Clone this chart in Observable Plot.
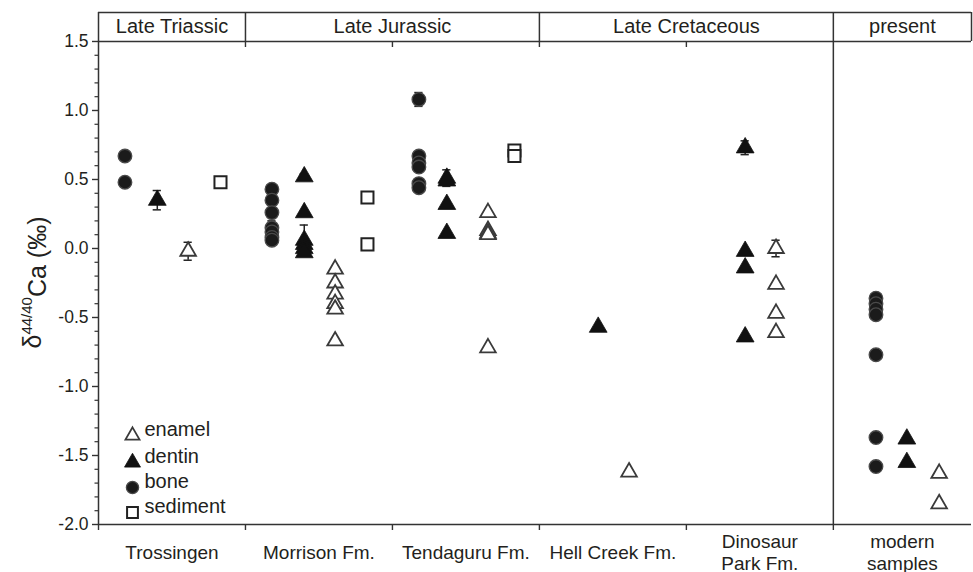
<!DOCTYPE html>
<html>
<head>
<meta charset="utf-8">
<script src="https://cdn.jsdelivr.net/npm/d3@7"></script>
<script src="https://cdn.jsdelivr.net/npm/@observablehq/plot@0.6"></script>
<style>
  html, body { margin: 0; padding: 0; background: #fff; }
  #chart { width: 973px; height: 572px; }
</style>
</head>
<body>
<div id="chart"></div>
<script>
// ---------- data ----------
const formations = ["Trossingen", "Morrison Fm.", "Tendaguru Fm.", "Hell Creek Fm.", "Dinosaur Park Fm.", "modern samples"];
const formationLabels = ["Trossingen", "Morrison Fm.", "Tendaguru Fm.", "Hell Creek Fm.", "Dinosaur\nPark Fm.", "modern\nsamples"];
const eras = ["Late Triassic", "Late Jurassic", "Late Cretaceous", "present"];
const eraSpans = [[0, 1], [1, 3], [3, 5], [5, 6]]; // formation index range covered by each era
const yTicks = [-2.0, -1.5, -1.0, -0.5, 0.0, 0.5, 1.0, 1.5];

// [formation, δ44/40Ca (‰), error bar (±)]
const enamel = [
  ["Trossingen", -0.02, 0.065],
  ["Morrison Fm.", -0.15], ["Morrison Fm.", -0.25], ["Morrison Fm.", -0.33], ["Morrison Fm.", -0.40], ["Morrison Fm.", -0.44], ["Morrison Fm.", -0.67],
  ["Tendaguru Fm.", 0.26], ["Tendaguru Fm.", 0.13], ["Tendaguru Fm.", 0.11], ["Tendaguru Fm.", 0.10], ["Tendaguru Fm.", -0.72],
  ["Hell Creek Fm.", -1.62],
  ["Dinosaur Park Fm.", 0.00, 0.06], ["Dinosaur Park Fm.", -0.26], ["Dinosaur Park Fm.", -0.47], ["Dinosaur Park Fm.", -0.61],
  ["modern samples", -1.63], ["modern samples", -1.85]
];
const dentin = [
  ["Trossingen", 0.35, 0.07],
  ["Morrison Fm.", 0.52, 0.02], ["Morrison Fm.", 0.26], ["Morrison Fm.", 0.06, 0.11], ["Morrison Fm.", 0.03], ["Morrison Fm.", 0.00], ["Morrison Fm.", -0.03],
  ["Tendaguru Fm.", 0.51, 0.06], ["Tendaguru Fm.", 0.49], ["Tendaguru Fm.", 0.32], ["Tendaguru Fm.", 0.11],
  ["Hell Creek Fm.", -0.57],
  ["Dinosaur Park Fm.", 0.73, 0.05], ["Dinosaur Park Fm.", -0.02], ["Dinosaur Park Fm.", -0.14], ["Dinosaur Park Fm.", -0.64],
  ["modern samples", -1.38], ["modern samples", -1.55]
];
const bone = [
  ["Trossingen", 0.67], ["Trossingen", 0.48],
  ["Morrison Fm.", 0.43], ["Morrison Fm.", 0.35], ["Morrison Fm.", 0.26], ["Morrison Fm.", 0.15, 0.05], ["Morrison Fm.", 0.12], ["Morrison Fm.", 0.08], ["Morrison Fm.", 0.06],
  ["Tendaguru Fm.", 1.08, 0.05], ["Tendaguru Fm.", 0.67], ["Tendaguru Fm.", 0.62], ["Tendaguru Fm.", 0.59], ["Tendaguru Fm.", 0.47], ["Tendaguru Fm.", 0.44],
  ["modern samples", -0.36], ["modern samples", -0.40], ["modern samples", -0.44], ["modern samples", -0.48], ["modern samples", -0.77], ["modern samples", -1.37], ["modern samples", -1.58]
];
const sediment = [
  ["Trossingen", 0.48],
  ["Morrison Fm.", 0.37], ["Morrison Fm.", 0.03],
  ["Tendaguru Fm.", 0.71], ["Tendaguru Fm.", 0.67]
];
const materials = ["enamel", "dentin", "bone", "sediment"];

// ---------- layout (not data) ----------
const X_MAX = 5.94;              // modern column is slightly narrower
const Y_MIN = -2.0, Y_TOP = 1.5, Y_HEAD = 1.71; // header band above 1.5
const PX = 1 / 138;               // one pixel in y units
const slot = {bone: 0.18, dentin: 0.40, enamel: 0.61, sediment: 0.83};
const slotOverride = {
  "Tendaguru Fm.": {dentin: 0.37, enamel: 0.65},
  "modern samples": {bone: 0.29, dentin: 0.50, enamel: 0.72}
};
function xPos(f, m) {
  const o = (slotOverride[f] && slotOverride[f][m] !== undefined) ? slotOverride[f][m] : slot[m];
  return formations.indexOf(f) + o;
}
function rows(arr, m) {
  return arr.map(([f, v, e]) => ({x: xPos(f, m), y: v, e: e || 0, m}));
}
const pts = {enamel: rows(enamel, "enamel"), dentin: rows(dentin, "dentin"), bone: rows(bone, "bone"), sediment: rows(sediment, "sediment")};
const allPts = [...pts.enamel, ...pts.dentin, ...pts.bone, ...pts.sediment];
const errPts = allPts.filter(d => d.e > 0);
const CAP = 0.028;

const ink = "#231f20";
const lineCol = "#333";
const minorTicks = d3.range(-20, 16).filter(v => v % 5 !== 0).map(v => v / 10);
const labelCenters = formations.map((f, i) => (i + Math.min(i + 1, X_MAX)) / 2);
const eraData = eras.map((e, i) => ({label: e, x: (eraSpans[i][0] + Math.min(eraSpans[i][1], X_MAX)) / 2}));

const symStyle = {
  enamel: {symbol: "triangle", r: 5.8, fill: "white", stroke: "#3a3a3a", strokeWidth: 1.8},
  dentin: {symbol: "triangle", r: 6.6, fill: "#111", stroke: "#111", strokeWidth: 0.8},
  bone: {symbol: "circle", r: 6.8, fill: "#1b1b1b", stroke: "#4a4a4a", strokeWidth: 1.3},
  sediment: {symbol: "square", r: 6.8, fill: "white", stroke: "#222", strokeWidth: 2}
};

const legendDy = [-89, -62, -37, -12];

const YLABEL = "δ44/40Ca (‰)";

const chart = Plot.plot({
  width: 973,
  height: 572,
  marginLeft: 98,
  marginRight: 2,
  marginTop: 12,
  marginBottom: 48,
  x: {domain: [0, X_MAX], axis: null},
  y: {domain: [Y_MIN, Y_HEAD], axis: null},
  style: {fontFamily: "'Liberation Sans', Arial, sans-serif", fontSize: "17px", color: ink, background: "white", overflow: "visible"},
  marks: [
    // y axis ticks
    Plot.axisY({ticks: yTicks, label: null, tickSize: 6, tickPadding: 4, tickFormat: d => d.toFixed(1), fontSize: 17.5, stroke: lineCol, strokeWidth: 1.4}),
    Plot.axisY({ticks: minorTicks, label: null, tickSize: 3.5, tickFormat: () => "", stroke: lineCol, strokeWidth: 1.2}),
    // frame lines
    Plot.ruleX([0], {y1: Y_MIN, y2: Y_HEAD, stroke: lineCol, strokeWidth: 1.5}),
    Plot.ruleY([Y_MIN], {x1: 0, x2: X_MAX, stroke: lineCol, strokeWidth: 1.5}),
    Plot.ruleY([Y_TOP, Y_HEAD], {x1: 0, x2: X_MAX, stroke: lineCol, strokeWidth: 1.5}),
    Plot.ruleX([1, 3, 5, X_MAX], {y1: Y_TOP, y2: Y_HEAD, stroke: lineCol, strokeWidth: 1.5}),
    Plot.ruleX([5], {y1: Y_MIN, y2: Y_TOP, stroke: lineCol, strokeWidth: 1.5}),
    // ticks under header and below bottom axis
    Plot.ruleX([1, 2, 3, 4], {y1: Y_TOP, y2: Y_TOP - 6 * PX, stroke: lineCol, strokeWidth: 1.4}),
    Plot.ruleX([0, 1, 2, 3, 4, 5], {y1: Y_MIN, y2: Y_MIN - 6 * PX, stroke: lineCol, strokeWidth: 1.4}),
    // header labels
    Plot.text(eraData, {x: "x", y: (Y_TOP + Y_HEAD) / 2, text: "label", fontSize: 20, fill: ink}),
    // formation labels
    Plot.text(formationLabels, {x: (d, i) => labelCenters[i], frameAnchor: "bottom", dy: 27, lineAnchor: "middle", lineHeight: 1.16, text: d => d, fontSize: 19, fill: ink}),
    // error bars
    Plot.ruleX(errPts, {x: "x", y1: d => d.y - d.e, y2: d => d.y + d.e, stroke: "#222", strokeWidth: 1.5}),
    Plot.ruleY(errPts, {y: d => d.y + d.e, x1: d => d.x - CAP, x2: d => d.x + CAP, stroke: "#222", strokeWidth: 1.5}),
    Plot.ruleY(errPts, {y: d => d.y - d.e, x1: d => d.x - CAP, x2: d => d.x + CAP, stroke: "#222", strokeWidth: 1.5}),
    // data symbols
    Plot.dot(pts.bone, {x: "x", y: "y", ...symStyle.bone}),
    Plot.dot(pts.dentin, {x: "x", y: "y", ...symStyle.dentin}),
    Plot.dot(pts.enamel, {x: "x", y: "y", ...symStyle.enamel}),
    Plot.dot(pts.sediment, {x: "x", y: "y", ...symStyle.sediment}),
    // legend
    ...materials.map((m, i) => Plot.dot([m], {frameAnchor: "bottom-left", dx: 34, dy: legendDy[i], ...symStyle[m], r: symStyle[m].r * 0.9})),
    ...materials.map((m, i) => Plot.text([m], {frameAnchor: "bottom-left", dx: 46, dy: legendDy[i], text: d => d, textAnchor: "start", fontSize: 20, fill: ink})),
    // y label
    Plot.text([YLABEL], {frameAnchor: "left", dx: -66, dy: 14, rotate: -90, textAnchor: "middle", text: d => d, fontSize: 25, fill: ink})
  ]
});

// superscript for the y label
d3.select(chart).selectAll("text").filter(function () { return this.textContent === YLABEL; }).each(function () {
  const t = d3.select(this);
  t.text(null);
  t.append("tspan").text("δ");
  t.append("tspan").attr("font-size", 15).attr("dy", "-0.55em").text("44/40");
  t.append("tspan").attr("dy", "0.55em").text("Ca (‰)");
});

document.getElementById("chart").appendChild(chart);
</script>
</body>
</html>
